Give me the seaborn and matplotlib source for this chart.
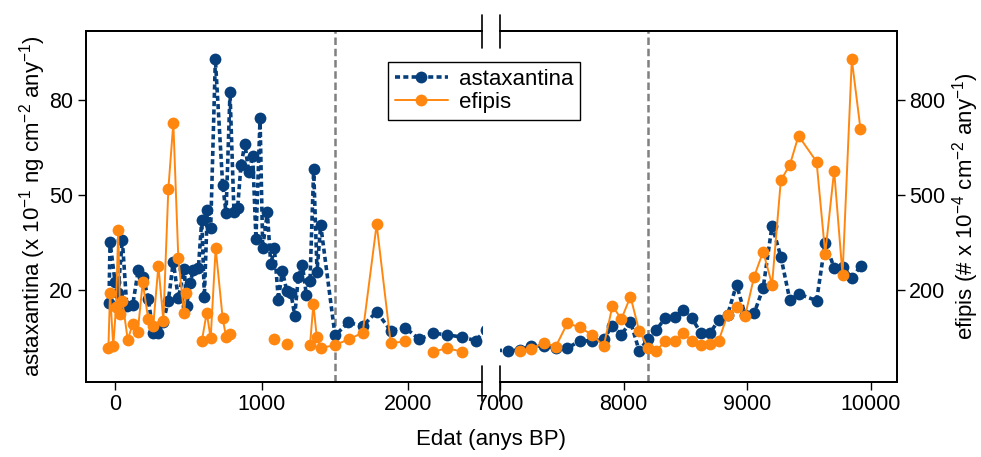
import numpy as np
import pandas as pd
import matplotlib
matplotlib.use("Agg")
import matplotlib.pyplot as plt
import seaborn as sns
from matplotlib.lines import Line2D

sns.set_theme(style="ticks")
plt.rcParams['font.family'] = ['Liberation Sans', 'DejaVu Sans']
plt.rcParams['mathtext.fontset'] = 'custom'
plt.rcParams['mathtext.rm'] = 'Liberation Sans'
plt.rcParams['mathtext.default'] = 'regular'
plt.rcParams.update({'text.color': 'black', 'axes.labelcolor': 'black',
                     'xtick.color': 'black', 'ytick.color': 'black',
                     'axes.edgecolor': 'black', 'font.size': 15.5})

FS = 15.5
LFS = 16
BLUE = "#063f7c"
ORANGE = "#ff8710"

# astaxantina (x 10^-1 ng cm^-2 any^-1)
asta_age = [-43, -36, -2, 18, 48, 78, 119, 157, 191, 225, 259, 294, 328, 362, 396,
            430, 471, 487, 510, 533, 567, 590, 608, 628, 651, 683, 733, 756, 783,
            810, 835, 858, 885, 910, 938, 960, 988, 1006, 1038, 1061, 1086, 1113,
            1140, 1170, 1199, 1225, 1249, 1277, 1304, 1329, 1354, 1377, 1402, 1500,
            1590, 1689, 1784, 1880, 1978, 2075, 2171, 2266, 2364, 2460, 2530,
            7065, 7159, 7254, 7354, 7451, 7545, 7645, 7744, 7839, 7909, 7982, 8055,
            8125, 8197, 8265, 8338, 8413, 8481, 8551, 8624, 8697, 8769, 8840, 8913,
            8982, 9055, 9128, 9200, 9271, 9344, 9417, 9560, 9630, 9702, 9775, 9845,
            9918]
asta_val = [16.0, 35.2, 22.6, 19.0, 35.8, 15.0, 15.3, 26.3, 24.2, 17.0, 6.5, 6.3,
            10.0, 16.6, 28.9, 17.4, 26.5, 15.0, 22.1, 26.3, 26.8, 42.1, 17.9, 45.2,
            39.5, 92.8, 53.1, 44.4, 82.4, 44.5, 46.0, 59.5, 66.1, 57.3, 62.3, 36.1,
            74.2, 33.3, 44.5, 28.1, 33.2, 16.8, 26.1, 19.7, 18.9, 11.9, 24.0, 27.9,
            18.4, 22.9, 58.1, 25.8, 40.5, 5.6, 9.7, 8.6, 13.1, 7.1, 8.1, 4.4, 6.3,
            5.8, 5.1, 4.0, 7.4,
            0.8, 1.0, 2.3, 2.3, 1.6, 1.6, 3.9, 3.9, 4.5, 8.7, 5.8, 10.0, 0.8, 4.4,
            7.4, 11.2, 11.4, 13.7, 11.2, 6.3, 6.3, 10.5, 12.1, 21.7, 12.1, 12.6,
            20.6, 40.3, 30.5, 16.8, 18.7, 16.6, 34.9, 27.0, 27.2, 23.7, 27.6]

# efipis (# x 10^-4 cm^-2 any^-1); NaN = gap in the series
efi_age = [-47, -36, -14, 5, 20, 32, 48, 85, 119, 153, 187, 225, 259, 294, 328, 362,
           396, 430, 469, 483, np.nan,
           590, 624, 651, 685, 733, 756, 783, np.nan,
           1086, np.nan, 1170, np.nan,
           1329, 1352, 1375, 1402, 1500, 1595, 1689, 1784, 1880, 1978, np.nan,
           2171, 2266, 2364, np.nan,
           7159, 7254, 7354, 7451, 7545, 7645, 7744, 7839, 7909, 7982, 8055, 8125,
           8197, 8265, 8338, 8413, 8481, 8551, 8624, 8697, 8769, 8840, 8913, 8982,
           9055, 9128, 9200, 9271, 9344, 9414, 9560, 9630, 9702, 9770, 9845, 9915]
efi_val = [18, 191, 23, 147, 389, 123, 166, 42, 93, 66, 224, 107, 87, 276, 103, 518,
           728, 302, 126, 191, np.nan,
           37, 128, 47, 332, 110, 52, 60, np.nan,
           44, np.nan, 29, np.nan,
           26, 155, 52, 16, 26, 44, 65, 407, 32, 37, np.nan,
           5, 16, 5, np.nan,
           8, 14, 33, 21, 95, 82, 58, 23, 149, 108, 179, 71,
           18, 8, 39, 37, 63, 40, 27, 28, 40, 121, 147, 117,
           242, 321, 217, 546, 595, 687, 605, 314, 577, 247, 928, 708]

asta_ticks = [20, 50, 80]
efi_ticks = [200, 500, 800]
left_xticks = [0, 1000, 2000]
right_xticks = [7000, 8000, 9000, 10000]
left_xlim = (-200, 2503)
right_xlim = (7000, 10208)
asta_ylim = (-9.1, 101.8)
efi_ylim = (-91, 1018)
marker_lines = [1500, 8200]

asta = pd.DataFrame({"age": asta_age, "val": asta_val})
efi = pd.DataFrame({"age": efi_age, "val": efi_val})
efi["seg"] = efi["val"].isna().cumsum()
efi = efi.dropna()

fig = plt.figure(figsize=(9.81, 4.57), dpi=100)
W, H = 981, 457
bottom = (H - 382) / H
height = 351 / H
axL = fig.add_axes([86 / W, bottom, 396 / W, height])
axR = fig.add_axes([500 / W, bottom, 396.7 / W, height])
axL2 = axL.twinx()
axR2 = axR.twinx()

for ax, ax2, xlim in [(axL, axL2, left_xlim), (axR, axR2, right_xlim)]:
    for v in marker_lines:
        ax.axvline(v, color="#808080", lw=1.8, ls=(0, (3, 1.5)), zorder=1)
    sns.lineplot(data=asta, x="age", y="val", ax=ax, color=BLUE, lw=2.6,
                 dashes=False, marker="o", markersize=8.5, markeredgecolor=BLUE,
                 markeredgewidth=0, sort=True, zorder=3,
                 linestyle=(0, (1.4, 0.9)))
    sns.lineplot(data=efi, x="age", y="val", units="seg", estimator=None, ax=ax2,
                 color=ORANGE, lw=1.4, marker="o", markersize=8.5,
                 markeredgecolor=ORANGE, markeredgewidth=0, zorder=3)
    ax.set_xlim(*xlim)
    ax2.set_xlim(*xlim)
    ax.set_ylim(*asta_ylim)
    ax2.set_ylim(*efi_ylim)
    ax.set_xlabel("")
    ax.set_ylabel("")
    ax2.set_ylabel("")
    for a in (ax, ax2):
        for s in a.spines.values():
            s.set_linewidth(1.3)
        a.tick_params(length=6, width=1, labelsize=FS, pad=3)

axL.set_xticks(left_xticks)
axR.set_xticks(right_xticks)
axL.set_yticks(asta_ticks)
axL2.set_yticks([])
axR.set_yticks([])
axR2.set_yticks(efi_ticks)

axL.spines["right"].set_visible(False)
axL2.spines["right"].set_visible(False)
axR.spines["left"].set_visible(False)
axR2.spines["left"].set_visible(False)

# break marks
for ax, xpos in [(axL, 1), (axR, 0)]:
    ax.plot([xpos, xpos], [0.952, 1.046], transform=ax.transAxes, color="black",
            lw=1.2, clip_on=False)
    ax.plot([xpos, xpos], [-0.054, 0.046], transform=ax.transAxes, color="black",
            lw=1.2, clip_on=False)

axL.set_ylabel("astaxantina (x 10$^{-1}$ ng cm$^{-2}$ any$^{-1}$)", fontsize=LFS,
               labelpad=1)
axR2.set_ylabel("efipis (# x 10$^{-4}$ cm$^{-2}$ any$^{-1}$)", fontsize=LFS,
                labelpad=3)
fig.text(491 / W, 1 - 440 / H, "Edat (anys BP)", ha="center", va="center",
         fontsize=LFS)

handles = [
    Line2D([], [], color=BLUE, lw=2.6, linestyle=(0, (1.4, 0.9)), marker="o",
           markersize=8.5, markeredgewidth=0),
    Line2D([], [], color=ORANGE, lw=1.4, marker="o", markersize=8.5,
           markeredgewidth=0),
]
leg = fig.legend(handles, ["astaxantina", "efipis"], loc="upper left",
                 bbox_to_anchor=(388 / W, 1 - 62 / H), fontsize=LFS,
                 frameon=True, fancybox=False, edgecolor="black",
                 handlelength=2.4, borderpad=0.3, labelspacing=0.1,
                 borderaxespad=0, handletextpad=0.5)
leg.get_frame().set_linewidth(1.0)
leg.get_frame().set_alpha(1)

fig.savefig("out.png", dpi=100)
